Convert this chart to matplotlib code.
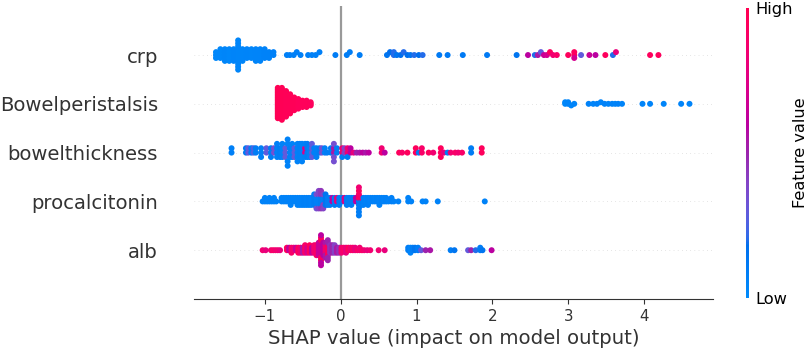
import numpy as np
import matplotlib
matplotlib.use("Agg")
import matplotlib.pyplot as plt
from matplotlib.colors import LinearSegmentedColormap, Normalize
from matplotlib.cm import ScalarMappable

# ---------------- data ----------------
# features, top to bottom
features = ["crp", "Bowelperistalsis", "bowelthickness", "procalcitonin", "alb"]
x_ticks = [-1, 0, 1, 2, 3, 4]
x_label = "SHAP value (impact on model output)"
cbar_labels = ["Low", "High"]
cbar_title = "Feature value"

# each feature: groups of points -> shap value, number of points, feature value (0 low .. 1 high)
crp_x = [-1.645, -1.587, -1.528, -1.47, -1.412, -1.353, -1.295, -1.237, -1.178, -1.12, -1.062, -1.003, -0.945, -0.887,
         -0.71, -0.67, -0.62, -0.58, -0.53, -0.43, -0.38, -0.33, -0.28, -0.07, 0.08, 0.12, 0.25,
         0.61, 0.65, 0.70, 0.74, 0.79, 0.83, 0.88, 0.92, 0.97, 1.03, 1.08,
         1.30, 1.41, 1.61, 1.93, 2.32, 2.47, 2.56, 2.60, 2.64, 2.68, 2.72, 2.76, 2.80, 2.85,
         3.00, 3.08, 3.08, 3.17, 3.28, 3.36, 3.49, 3.59, 3.63, 4.08, 4.19]
crp_n = [3, 4, 5, 5, 5, 11, 5, 4, 4, 5, 5, 4, 3, 2,
         1, 1, 1, 1, 1, 1, 1, 1, 1, 1, 1, 1, 1,
         1, 1, 2, 1, 1, 1, 1, 1, 1, 1, 1,
         1, 1, 1, 1, 1, 1, 1, 1, 1, 1, 1, 1, 1, 1,
         1, 2, 1, 1, 1, 1, 1, 1, 1, 1, 1]
crp_c = [0.03, 0.03, 0.04, 0.03, 0.05, 0.04, 0.04, 0.05, 0.04, 0.05, 0.05, 0.06, 0.06, 0.07,
         0.08, 0.08, 0.08, 0.08, 0.08, 0.08, 0.08, 0.08, 0.08, 0.10, 0.10, 0.10, 0.10,
         0.15, 0.18, 0.20, 0.15, 0.18, 0.20, 0.18, 0.15, 0.20, 0.18, 0.20,
         0.12, 0.12, 0.12, 0.12, 0.15, 0.60, 0.20, 0.55, 0.30, 0.65, 0.70, 0.95, 0.85, 0.90,
         0.95, 0.95, 0.70, 0.30, 0.65, 0.60, 0.95, 0.20, 0.80, 0.95, 0.95]

bowp_x = [-0.83, -0.776, -0.721, -0.667, -0.613, -0.559, -0.504, -0.45, -0.396,
          2.96, 3.00, 3.04, 3.08, 3.27, 3.33, 3.38, 3.43, 3.48, 3.53, 3.58, 3.62, 3.66, 3.71,
          3.98, 4.08, 4.26, 4.49, 4.60]
bowp_n = [20, 21, 17, 13, 9, 7, 5, 5, 3,
          2, 2, 1, 1, 1, 1, 1, 1, 1, 1, 1, 1, 1, 1,
          1, 1, 1, 1, 1]
bowp_c = [0.98, 0.98, 0.97, 0.97, 0.97, 0.96, 0.96, 0.96, 0.95,
          0.03, 0.05, 0.04, 0.05, 0.06, 0.05, 0.06, 0.05, 0.06, 0.05, 0.06, 0.05, 0.06, 0.05,
          0.05, 0.05, 0.04, 0.05, 0.05]

bowt_x = [-1.44, -1.25, -1.22, -1.18, -1.15, -1.12, -1.05, -0.98, -0.92, -0.88, -0.84,
          -0.80, -0.77, -0.73, -0.70, -0.67, -0.64, -0.61, -0.57, -0.54, -0.51,
          -0.47, -0.47, -0.44, -0.41, -0.38, -0.35, -0.32, -0.28, -0.25, -0.21, -0.18,
          -0.13, -0.09, -0.09, -0.05,
          0.02, 0.02, 0.05, 0.09, 0.09, 0.13, 0.17, 0.21, 0.25, 0.29, 0.33, 0.37,
          0.54, 0.58, 0.77, 0.81, 0.88, 0.99, 1.03, 1.07, 1.16, 1.22, 1.32, 1.36, 1.41,
          1.45, 1.51, 1.55, 1.60, 1.72, 1.86]
bowt_n = [2, 2, 2, 2, 2, 2, 3, 2, 3, 2, 4,
          3, 4, 3, 4, 3, 4, 3, 5, 4, 5,
          2, 2, 4, 3, 4, 2, 3, 2, 2, 2, 1,
          2, 2, 3, 2,
          2, 1, 2, 2, 1, 2, 1, 1, 1, 1, 1, 1,
          2, 1, 1, 1, 1, 2, 1, 2, 1, 1, 3, 1, 1,
          1, 1, 1, 1, 2, 2]
bowt_c = [0.08, 0.12, 0.30, 0.10, 0.25, 0.10, 0.08, 0.30, 0.10, 0.35, 0.08,
          0.10, 0.06, 0.30, 0.06, 0.08, 0.06, 0.30, 0.06, 0.08, 0.06,
          0.75, 0.08, 0.10, 0.06, 0.30, 0.08, 0.08, 0.10, 0.35, 0.08, 0.10,
          0.10, 0.55, 0.35, 0.10,
          0.85, 0.10, 0.40, 0.85, 0.10, 0.60, 0.80, 0.50, 0.55, 0.60, 0.55, 0.60,
          0.85, 0.60, 0.95, 0.90, 0.95, 0.95, 0.10, 0.90, 0.95, 0.85, 0.95, 0.80, 0.10,
          0.85, 0.90, 0.85, 0.90, 0.10, 0.95]

proc_x = [-1.03, -1.00, -0.97, -0.94, -0.91, -0.88, -0.85,
          -0.78, -0.75, -0.72, -0.69, -0.66, -0.63, -0.60, -0.57, -0.54,
          -0.51, -0.48, -0.45, -0.42, -0.39,
          -0.35, -0.32, -0.32, -0.29, -0.29, -0.26, -0.26, -0.23, -0.23, -0.20, -0.17,
          -0.14, -0.11, -0.08, -0.05, -0.02,
          0.02, 0.05, 0.08, 0.11, 0.14, 0.17, 0.20,
          0.24, 0.24, 0.24, 0.24, 0.24, 0.24, 0.24, 0.24, 0.24,
          0.27, 0.27, 0.27,
          0.30, 0.33, 0.36, 0.39, 0.42, 0.45, 0.48, 0.51, 0.54, 0.57, 0.60, 0.63, 0.67, 0.70,
          0.76, 0.89, 0.93, 1.08, 1.12, 1.28, 1.90]
proc_n = [1, 2, 1, 2, 1, 2, 1,
          2, 2, 2, 2, 3, 2, 2, 3, 3,
          3, 3, 3, 3, 3,
          4, 3, 2, 3, 3, 3, 3, 2, 3, 4, 3,
          3, 2, 3, 2, 3,
          2, 2, 3, 2, 3, 2, 2,
          1, 1, 1, 1, 1, 1, 1, 1, 1,
          1, 1, 1,
          3, 2, 3, 2, 2, 2, 2, 3, 2, 2, 2, 1, 2, 1,
          1, 2, 1, 1, 1, 1, 1]
proc_c = [0.06, 0.06, 0.06, 0.06, 0.06, 0.06, 0.06,
          0.06, 0.06, 0.06, 0.06, 0.06, 0.06, 0.06, 0.06, 0.06,
          0.06, 0.08, 0.06, 0.08, 0.06,
          0.10, 0.08, 0.35, 0.08, 0.40, 0.10, 0.45, 0.08, 0.40, 0.15, 0.10,
          0.10, 0.60, 0.10, 0.80, 0.10,
          0.10, 0.75, 0.10, 0.10, 0.10, 0.10, 0.60,
          0.10, 0.95, 0.10, 0.90, 0.10, 0.95, 0.10, 0.85, 0.10,
          0.10, 0.90, 0.10,
          0.08, 0.06, 0.08, 0.06, 0.08, 0.06, 0.08, 0.06, 0.08, 0.06, 0.08, 0.06, 0.08, 0.06,
          0.06, 0.06, 0.06, 0.06, 0.06, 0.06, 0.06]

alb_x = [-1.03, -0.99, -0.92, -0.89, -0.86, -0.83, -0.80,
         -0.71, -0.68, -0.65, -0.62, -0.59, -0.56,
         -0.53, -0.50, -0.47, -0.44, -0.41, -0.38, -0.35,
         -0.32, -0.29, -0.26, -0.26, -0.23, -0.20, -0.20, -0.17, -0.17,
         -0.14, -0.11, -0.08, -0.05, -0.02, 0.01, 0.04, 0.07, 0.10, 0.13, 0.16, 0.19,
         0.22, 0.25, 0.28, 0.31, 0.35, 0.39, 0.50, 0.58,
         0.89, 0.92, 0.95, 0.98, 1.02, 1.06, 1.12, 1.18,
         1.45, 1.50, 1.68, 1.72, 1.78, 1.84, 1.87, 1.99]
alb_n = [1, 1, 1, 1, 1, 1, 1,
         2, 2, 3, 2, 2, 3,
         3, 3, 4, 3, 4, 3, 4,
         5, 6, 4, 3, 6, 4, 3, 5, 4,
         4, 4, 4, 3, 3, 3, 2, 3, 2, 2, 2, 2,
         1, 2, 1, 1, 1, 1, 1, 1,
         2, 3, 2, 2, 2, 1, 1, 1,
         1, 1, 1, 1, 1, 2, 1, 1]
alb_c = [0.85, 0.80, 0.85, 0.90, 0.85, 0.85, 0.80,
         0.95, 0.60, 0.90, 0.85, 0.65, 0.95,
         0.85, 0.55, 0.90, 0.70, 0.95, 0.60, 0.85,
         0.90, 0.65, 0.95, 0.60, 0.60, 0.85, 0.55, 0.95, 0.50,
         0.45, 0.50, 0.40, 0.55, 0.45, 0.85, 0.90, 0.80, 0.95, 0.85, 0.90, 0.80,
         0.90, 0.85, 0.90, 0.85, 0.80, 0.85, 0.85, 0.80,
         0.10, 0.05, 0.10, 0.15, 0.10, 0.30, 0.50, 0.55,
         0.10, 0.15, 0.30, 0.50, 0.20, 0.10, 0.15, 0.60]

groups = [(crp_x, crp_n, crp_c), (bowp_x, bowp_n, bowp_c), (bowt_x, bowt_n, bowt_c),
          (proc_x, proc_n, proc_c), (alb_x, alb_n, alb_c)]


# ---------------- shap "red_blue" colormap (Lch interpolation) ----------------
def lch_to_rgb(l, c, h):
    a, b = c * np.cos(h), c * np.sin(h)
    fy = (l + 16.0) / 116.0
    fx = fy + a / 500.0
    fz = fy - b / 200.0
    f = np.array([fx, fy, fz])
    xyz = np.where(f > 0.2068966, f ** 3, (f - 16.0 / 116.0) / 7.787)
    xyz = xyz * np.array([0.95047, 1.0, 1.08883])
    m = np.array([[3.2404542, -1.5371385, -0.4985314],
                  [-0.9692660, 1.8760108, 0.0415560],
                  [0.0556434, -0.2040259, 1.0572252]])
    rgb = m @ xyz
    rgb = np.where(rgb > 0.0031308, 1.055 * np.power(np.clip(rgb, 0, None), 1 / 2.4) - 0.055, 12.92 * rgb)
    return np.clip(rgb, 0, 1)


blue_lch = [54.0, 70.0, 4.6588]
red_lch = [54.0, 90.0, 0.35470565 + 2 * np.pi]
l_mid = 40.0
nsteps = 100
l_vals = list(np.linspace(blue_lch[0], l_mid, nsteps // 2)) + list(np.linspace(l_mid, red_lch[0], nsteps // 2))
c_vals = np.linspace(blue_lch[1], red_lch[1], nsteps)
h_vals = np.linspace(blue_lch[2], red_lch[2], nsteps)
cols = [lch_to_rgb(l, c, h) for l, c, h in zip(l_vals, c_vals, h_vals)]
red_blue = LinearSegmentedColormap.from_list("red_blue", list(zip(np.linspace(0, 1, nsteps), cols)))


def beeswarm(x, row_height=0.4, nbins=100):
    x = np.asarray(x, float)
    quant = np.round(nbins * (x - x.min()) / (x.max() - x.min() + 1e-8))
    inds = np.argsort(quant, kind="stable")
    ys = np.zeros(len(x))
    layer, last_bin = 0, -1
    for ind in inds:
        if quant[ind] != last_bin:
            layer = 0
        ys[ind] = np.ceil(layer / 2) * ((layer % 2) * 2 - 1)
        layer += 1
        last_bin = quant[ind]
    ys *= 0.9 * (row_height / np.max(ys + 1))
    return ys


# ---------------- figure ----------------
W, H = 809, 353
fig = plt.figure(figsize=(W / 100, H / 100), dpi=100)
ax = fig.add_axes([194 / W, (H - 299) / H, (713 - 194) / W, (299 - 6.25) / H])

nfeat = len(features)
for i, (gx, gn, gc) in enumerate(groups):
    pos = nfeat - 1 - i
    xs = np.repeat(np.asarray(gx, float), gn)
    cs = np.repeat(np.asarray(gc, float), gn)
    ys = beeswarm(xs)
    ax.axhline(y=pos, color="#cccccc", lw=0.5, dashes=(1, 5), zorder=-1)
    ax.scatter(xs, pos + ys, c=cs, cmap=red_blue, vmin=0, vmax=1, s=18.5,
               linewidth=0, alpha=1, zorder=3)

ax.axvline(x=0, color="#999999", lw=1.6, zorder=-1)

ax.set_xlim(-1.935, 4.91)
ax.set_ylim(-1, nfeat)
ax.set_yticks(range(nfeat))
ax.set_yticklabels(features[::-1], fontsize=14.1, color="#333333")
ax.set_xticks(x_ticks)
ax.set_xticklabels([f"\u2212{abs(t)}" if t < 0 else str(t) for t in x_ticks], fontsize=10.8, color="#333333")
ax.set_xlabel(x_label, fontsize=14.2, color="#333333")
for s in ["top", "right", "left"]:
    ax.spines[s].set_visible(False)
ax.spines["bottom"].set_color("#333333")
ax.yaxis.set_ticks_position("none")
ax.tick_params(axis="y", pad=22.5)
ax.tick_params(axis="x", color="#333333")

cax = fig.add_axes([746 / W, (H - 298) / H, 2.6 / W, 290 / H])
cb = fig.colorbar(ScalarMappable(norm=Normalize(0, 1), cmap=red_blue), cax=cax, ticks=[0, 1])
cb.set_ticklabels(cbar_labels)
cb.ax.tick_params(labelsize=11.7, length=0, pad=5)
cb.set_label(cbar_title, size=11.6, labelpad=0)
cb.outline.set_visible(False)

fig.savefig("out.png", dpi=100)
